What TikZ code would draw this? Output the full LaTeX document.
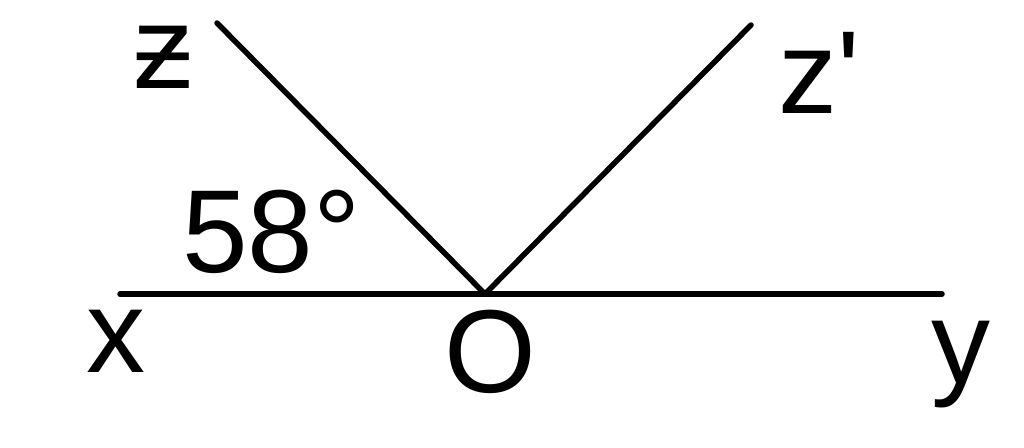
\documentclass[tikz,border=0pt]{standalone}
\usepackage{fontspec}
\setmainfont[Ligatures=TeXOff]{Liberation Sans}
\tikzset{
  lbl/.style={inner sep=0pt, anchor=base west, font=\fontsize{118}{118}\selectfont},
  ln/.style={line width=5.5pt, line cap=round}
}
\begin{document}
\begin{tikzpicture}[x=1pt,y=-1pt]
\useasboundingbox (0,0) rectangle (1024,447);
\coordinate (O) at (485,294);
\coordinate (xe) at (120,294);
\coordinate (ye) at (942,294);
\coordinate (ze) at (217,23);
\coordinate (zpe) at (751,25);
\draw[ln] (xe) -- (ye);
\draw[ln] (O) -- (ze);
\draw[ln] (O) -- (zpe);
\node[lbl] (zl) at (134,88) {ƶ};
\node[lbl] (zpl) at (778,113) {z'};
\node[lbl] (ang) at (182,272) {58°};
\node[lbl] (xl) at (86,372) {x};
\node[lbl] (ol) at (444,392) {O};
\node[lbl] (yl) at (931,383) {y};
\end{tikzpicture}
\end{document}
